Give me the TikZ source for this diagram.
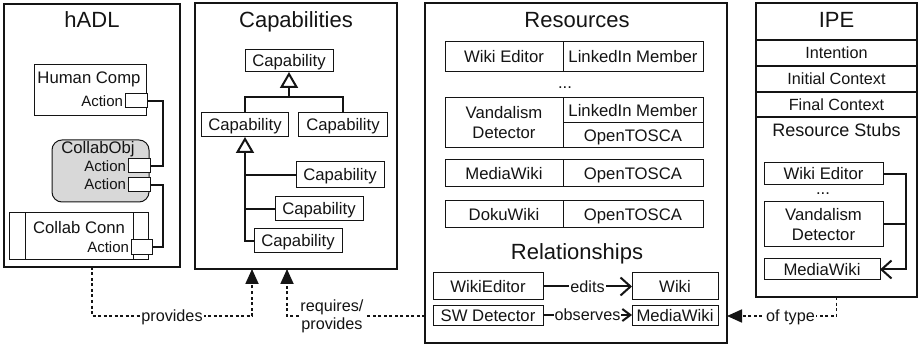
\documentclass[tikz,border=0pt]{standalone}
\usepackage{fontspec}
\setmainfont{Liberation Sans}
\usetikzlibrary{arrows.meta,calc}

\newcommand\lblfont{\fontsize{16.7}{20}\selectfont}
\newcommand\ttlfont{\fontsize{22}{26}\selectfont}
\newcommand\actfont{\fontsize{15}{18}\selectfont}
\newcommand\stubfont{\fontsize{18}{21}\selectfont}
\newcommand\deplblfont{\fontsize{16.2}{18}\selectfont}

\definecolor{objgray}{RGB}{216,216,216}
\definecolor{ink}{RGB}{20,20,20}

\begin{document}
\begin{tikzpicture}[x=1pt,y=-1pt,
  every node/.style={inner sep=0pt, outer sep=0pt, text=ink},
  panel/.style={draw=ink, line width=1.2pt},
  box/.style={draw=ink, line width=1pt, font=\lblfont, text height=12pt, text depth=0pt},
  mbox/.style={draw=ink, line width=1pt, font=\lblfont, align=center},
  ttl/.style={font=\ttlfont, text height=15.8pt, text depth=0pt},
  lbl/.style={font=\lblfont, text height=12pt, text depth=0pt},
  dots/.style={font=\lblfont, anchor=base},
  act/.style={font=\actfont, text height=10.8pt, text depth=0pt},
  port/.style={draw=ink, line width=1pt, fill=white, minimum width=22pt, minimum height=14pt},
  conn/.style={draw=ink, line width=2pt},
  tree/.style={draw=ink, line width=2pt},
  rel/.style={draw=ink, line width=2pt},
  dep/.style={draw=ink, line width=1.8pt, dash pattern=on 3pt off 2.5pt},
  deplbl/.style={fill=white, inner xsep=1.5pt, font=\deplblfont, text height=11.6pt, text depth=0pt},
  deplbltwo/.style={fill=white, inner xsep=1.5pt, font=\deplblfont, align=center},
  gen/.style={-{Triangle[open, length=16pt, width=18pt]}},
  solidtip/.style={-{Triangle[length=15pt, width=13pt]}},
  barb/.style={-{Straight Barb[length=10pt, width=18pt]}}
]
\fill[white] (0,0) rectangle (918,347);
\useasboundingbox (0,0) rectangle (918,347);

% ---------------- hADL ----------------
\node[panel, minimum width=176pt, minimum height=263pt] (hadl) at (92,135.5) {};
\node[ttl] (hadlT) at (92,20) {hADL};

\node[box, minimum width=112pt, minimum height=51pt] (hc) at (90,90.5) {};
\node[lbl] (hcT) at (89,78) {Human Comp};
\node[act, anchor=east] (hcA) at (123,101) {Action};
\node[port] (hcP) at (136,101) {};

\node[box, rounded corners=10pt, fill=objgray, minimum width=97pt, minimum height=62pt] (co) at (100.5,171) {};
\node[lbl] (coT) at (98,148) {CollabObj};
\node[act, anchor=east] (coA1) at (126,166) {Action};
\node[act, anchor=east] (coA2) at (126,184.5) {Action};
\node[port] (coP1) at (139,166) {};
\node[port] (coP2) at (139,185) {};

\node[box, minimum width=139pt, minimum height=47pt] (cc) at (78.5,236.5) {};
\draw[draw=ink, line width=1pt] ($(cc.north west)+(16,0)$) -- ($(cc.south west)+(16,0)$);
\draw[draw=ink, line width=1pt] ($(cc.north east)+(-15,0)$) -- ($(cc.south east)+(-15,0)$);
\node[lbl] (ccT) at (79,228) {Collab Conn};
\node[act, anchor=east] (ccA) at (129,247) {Action};
\node[port, minimum width=21pt, minimum height=15pt] (ccP) at (141.5,247) {};

\draw[conn] (hcP.east) -- ++(16,0) |- (coP1.east);
\draw[conn] (coP2.east) -- ++(13,0) |- (ccP.east);

% ---------------- Capabilities ----------------
\node[panel, minimum width=202pt, minimum height=266pt] (cap) at (296,136) {};
\node[ttl] (capT) at (296,20) {Capabilities};

\node[box, minimum width=88pt, minimum height=22pt] (c0) at (289,61) {Capability};
\node[box, minimum width=87pt, minimum height=24pt] (c1) at (245,125) {Capability};
\node[box, minimum width=89pt, minimum height=24pt] (c2) at (343,125) {Capability};
\node[box, minimum width=88pt, minimum height=26pt] (c3) at (340,175) {Capability};
\node[box, minimum width=88pt, minimum height=24pt] (c4) at (319,209) {Capability};
\node[box, minimum width=88pt, minimum height=24pt] (c5) at (298,241) {Capability};

\coordinate (bar0) at ($(c0.south)+(0,25)$);
\draw[tree] (c1.north) |- (bar0) -| (c2.north);
\draw[tree, gen] (bar0) -- (c0.south);
\draw[tree, gen] (c5.west) -- (c1.south |- c5.west) -- (c1.south);
\draw[tree] (c1.south |- c3.west) -- (c3.west);
\draw[tree] (c1.south |- c4.west) -- (c4.west);

% ---------------- Resources ----------------
\node[panel, minimum width=302pt, minimum height=340pt] (res) at (576,173) {};
\node[ttl] (resT) at (577,20) {Resources};

\node[box, minimum width=118pt, minimum height=30pt] (r1a) at (504,57) {Wiki Editor};
\node[box, minimum width=140pt, minimum height=30pt] (r1b) at (633,57) {LinkedIn Member};
\node[dots] (rdots) at (565,89) {...};
\node[mbox, minimum width=118pt, minimum height=50pt] (r2a) at (504,123) {Vandalism\\Detector};
\node[box, minimum width=140pt, minimum height=25pt] (r2b) at (633,110.5) {LinkedIn Member};
\node[box, minimum width=140pt, minimum height=25pt] (r2c) at (633,135.5) {OpenTOSCA};
\node[box, minimum width=118pt, minimum height=27pt] (r3a) at (504,173.5) {MediaWiki};
\node[box, minimum width=140pt, minimum height=27pt] (r3b) at (633,173.5) {OpenTOSCA};
\node[box, minimum width=118pt, minimum height=27pt] (r4a) at (504,214.5) {DokuWiki};
\node[box, minimum width=140pt, minimum height=27pt] (r4b) at (633,214.5) {OpenTOSCA};

\node[ttl] (relT) at (577,252) {Relationships};
\node[box, minimum width=110pt, minimum height=27pt] (we) at (488,286.5) {WikiEditor};
\node[box, minimum width=86pt, minimum height=27pt] (wk) at (675,286.5) {Wiki};
\node[box, minimum width=110pt, minimum height=20pt] (sw) at (488,315) {SW Detector};
\node[box, minimum width=86pt, minimum height=20pt] (mw) at (675,315) {MediaWiki};
\draw[rel, barb] (we) -- node[deplbl, inner xsep=1pt] {edits} (wk);
\draw[rel, -{Straight Barb[length=8pt, width=12pt]}] (sw) -- node[deplbl, inner xsep=0.5pt] {observes} (mw);

% ---------------- IPE ----------------
\node[panel, minimum width=161pt, minimum height=294pt] (ipe) at (836.5,150) {};
\node[ttl] (ipeT) at (836.5,20) {IPE};
\node[panel, minimum width=161pt, minimum height=26pt, font=\deplblfont, text height=11.6pt, text depth=0pt] (int) at (836.5,53) {Intention};
\node[panel, minimum width=161pt, minimum height=26pt, font=\deplblfont, text height=11.6pt, text depth=0pt] (ini) at (836.5,79) {Initial Context};
\node[panel, minimum width=161pt, minimum height=25pt, font=\deplblfont, text height=11.6pt, text depth=0pt] (fin) at (836.5,104.5) {Final Context};
\node[font=\stubfont, text height=13pt, text depth=0pt] (stubT) at (836.5,130) {Resource Stubs};

\node[box, minimum width=119pt, minimum height=22pt] (swe) at (823.5,174) {Wiki Editor};
\node[dots] (sdots) at (823,195) {...};
\node[mbox, minimum width=119pt, minimum height=45pt] (svd) at (823.5,224.5) {Vandalism\\Detector};
\node[box, minimum width=116pt, minimum height=21pt] (smw) at (822,269.5) {MediaWiki};
\draw[conn, barb] (swe.east) -- ++(23,0) |- (smw.east);
\draw[conn] (svd.east) -- ++(23,0);

% ---------------- dependencies ----------------
\coordinate (capIn1) at ($(cap.south)+(-44,0)$);
\coordinate (capIn2) at ($(cap.south)+(-9,0)$);
\coordinate (resW) at ($(res.south west)+(0,-27)$);
\coordinate (resE) at ($(res.south east)+(0,-27)$);

\draw[dep, solidtip] (hadl.south) -- ++(0,49) -| node[pos=0.25, deplbl] {provides} (capIn1);
\draw[dep, solidtip] (resW) -| node[pos=0.337, deplbltwo] {requires/\\provides} (capIn2);
\draw[dep, solidtip] (ipe.south) |- node[pos=0.71, deplbl] {of type} (resE);
\end{tikzpicture}
\end{document}
